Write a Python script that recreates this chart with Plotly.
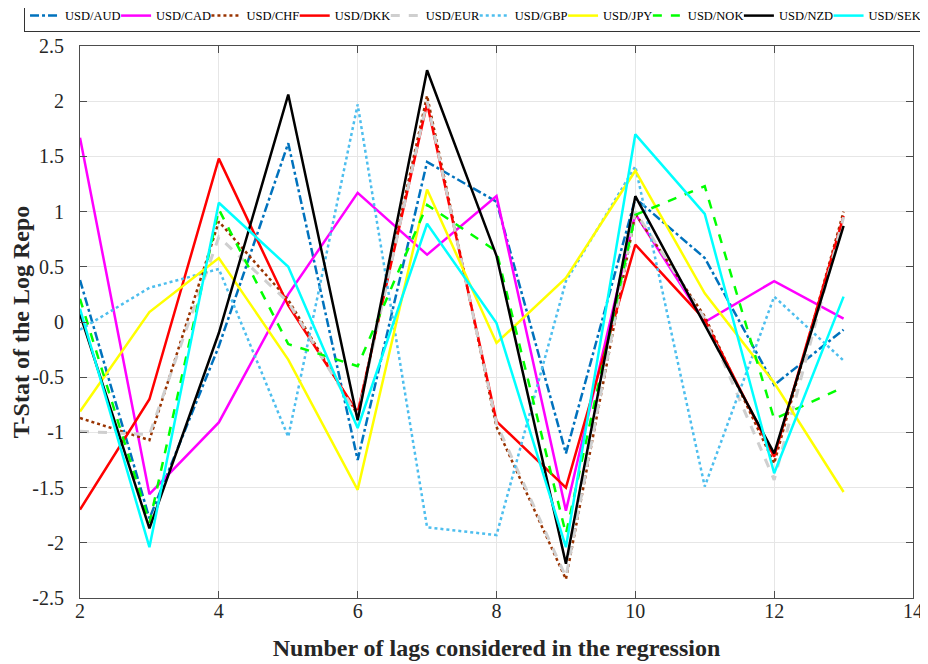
import plotly.graph_objects as go

lags = [2, 3, 4, 5, 6, 7, 8, 9, 10, 11, 12, 13]

usd_aud = [0.38, -1.78, -0.22, 1.62, -1.25, 1.45, 1.09, -1.19, 1.12, 0.58, -0.57, -0.07]
usd_cad = [1.67, -1.56, -0.91, 0.25, 1.17, 0.61, 1.14, -1.71, 0.98, 0.0, 0.37, 0.03]
usd_chf = [-0.87, -1.07, 0.91, 0.2, -0.84, 2.05, -0.95, -2.33, 0.98, 0.05, -1.28, 1.0]
usd_dkk = [-1.7, -0.7, 1.48, 0.15, -0.82, 1.98, -0.9, -1.5, 0.7, 0.02, -1.22, 0.96]
usd_eur = [-0.99, -1.02, 0.77, 0.18, -0.85, 2.0, -0.92, -2.31, 1.0, 0.03, -1.43, 0.95]
usd_gbp = [-0.07, 0.31, 0.48, -1.04, 1.97, -1.86, -1.93, 0.37, 1.41, -1.49, 0.23, -0.35]
usd_jpy = [-0.81, 0.09, 0.58, -0.34, -1.52, 1.2, -0.19, 0.4, 1.37, 0.26, -0.55, -1.54]
usd_nok = [0.21, -1.82, 1.02, -0.2, -0.4, 1.06, 0.64, -1.92, 0.97, 1.23, -0.88, -0.59]
usd_nzd = [0.07, -1.87, -0.1, 2.06, -0.89, 2.28, 0.6, -2.19, 1.14, -0.03, -1.19, 0.87]
usd_sek = [0.12, -2.04, 1.08, 0.5, -0.96, 0.89, -0.01, -2.04, 1.7, 0.98, -1.37, 0.23]

series_names = ["USD/AUD", "USD/CAD", "USD/CHF", "USD/DKK", "USD/EUR",
                "USD/GBP", "USD/JPY", "USD/NOK", "USD/NZD", "USD/SEK"]
series_values = [usd_aud, usd_cad, usd_chf, usd_dkk, usd_eur,
                 usd_gbp, usd_jpy, usd_nok, usd_nzd, usd_sek]

x_tick_vals = [2, 4, 6, 8, 10, 12, 14]
x_tick_text = ["2", "4", "6", "8", "10", "12", "14"]
y_tick_vals = [2.5, 2, 1.5, 1, 0.5, 0, -0.5, -1, -1.5, -2, -2.5]
y_tick_text = ["2.5", "2", "1.5", "1", "0.5", "0", "-0.5", "-1", "-1.5", "-2", "-2.5"]

styles = [
    dict(color="#0072BD", dash="dashdot", width=2.5),
    dict(color="#FF00FF", dash="solid", width=2.5),
    dict(color="#993300", dash="dot", width=2.5),
    dict(color="#FF0000", dash="solid", width=2.5),
    dict(color="#CFCFCF", dash="dash", width=3),
    dict(color="#4DBEEE", dash="dot", width=2.5),
    dict(color="#FFFF00", dash="solid", width=2.5),
    dict(color="#00FF00", dash="dash", width=2.5),
    dict(color="#000000", dash="solid", width=2.5),
    dict(color="#00FFFF", dash="solid", width=2.5),
]
legend_widths = [46.05, 45.36, 43.29, 46.05, 43.98, 43.29, 39.81, 46.05, 44.66, 54]

FONT = "Liberation Serif, Times New Roman, serif"

fig = go.Figure()
for name, vals, st, lw in zip(series_names, series_values, styles, legend_widths):
    fig.add_trace(go.Scatter(x=lags, y=vals, mode="lines", name=name,
                             line=st, legendwidth=lw))

axis_common = dict(
    showgrid=True, gridcolor="#E6E6E6", gridwidth=1,
    showline=True, linecolor="#4D4D4D", linewidth=1, mirror="ticks",
    ticks="inside", ticklen=7, tickcolor="#4D4D4D",
    tickfont=dict(family=FONT, size=20, color="#262626"),
    zeroline=False, automargin=False,
)

# the page body adds an 8px offset, so the figure is 8px smaller on each axis
fig.update_layout(
    width=920, height=656,
    margin=dict(l=72, r=15, t=38, b=66, autoexpand=False),
    paper_bgcolor="white", plot_bgcolor="white",
    font=dict(family=FONT, color="#262626"),
    xaxis=dict(range=[2, 14], tickvals=x_tick_vals, ticktext=x_tick_text,
               ticklabelstandoff=-5,
               title=dict(text="<b>Number of lags considered in the regression</b>",
                          font=dict(family=FONT, size=24, color="#262626"), standoff=18),
               **axis_common),
    yaxis=dict(range=[-2.5, 2.5], tickvals=y_tick_vals, ticktext=y_tick_text,
               ticklabelstandoff=11,
               title=dict(text="<b>T-Stat of the Log Repo</b>",
                          font=dict(family=FONT, size=24, color="#262626"), standoff=0),
               **axis_common),
    legend=dict(orientation="h", x=-0.0672, xanchor="left", y=1.0254, yanchor="bottom",
                font=dict(family=FONT, size=12.5, color="#000000"),
                bordercolor="#333333", borderwidth=1, bgcolor="white",
                itemwidth=30, tracegroupgap=0),
    showlegend=True,
)

fig.write_html("out.html")
